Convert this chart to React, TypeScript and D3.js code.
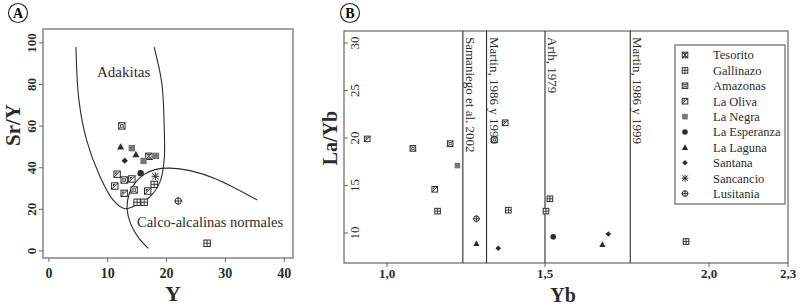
import { useEffect } from 'react';
import * as d3 from 'd3';

// groups, in legend order
const groups = ['Tesorito', 'Gallinazo', 'Amazonas', 'La Oliva', 'La Negra', 'La Esperanza', 'La Laguna', 'Santana', 'Sancancio', 'Lusitania'];

// panel A: Y vs Sr/Y
const srYPoints = [
  { g: 'Amazonas', x: 12.4, y: 60.1 },
  { g: 'La Laguna', x: 12.2, y: 50.1 },
  { g: 'La Negra', x: 14.1, y: 49.4 },
  { g: 'La Laguna', x: 14.8, y: 46.4 },
  { g: 'Tesorito', x: 17.0, y: 45.5 },
  { g: 'La Negra', x: 18.2, y: 45.7 },
  { g: 'La Negra', x: 16.1, y: 43.3 },
  { g: 'Santana', x: 12.9, y: 43.4 },
  { g: 'La Esperanza', x: 15.6, y: 37.4 },
  { g: 'Sancancio', x: 18.1, y: 35.9 },
  { g: 'La Oliva', x: 11.6, y: 36.9 },
  { g: 'Amazonas', x: 12.8, y: 34.1 },
  { g: 'La Oliva', x: 14.1, y: 34.6 },
  { g: 'Gallinazo', x: 17.9, y: 32.0 },
  { g: 'La Oliva', x: 11.2, y: 31.2 },
  { g: 'Amazonas', x: 14.5, y: 29.3 },
  { g: 'La Oliva', x: 16.8, y: 28.8 },
  { g: 'La Oliva', x: 12.8, y: 27.7 },
  { g: 'Gallinazo', x: 15.0, y: 23.4 },
  { g: 'Gallinazo', x: 16.2, y: 23.4 },
  { g: 'Lusitania', x: 22.0, y: 24.0 },
  { g: 'Gallinazo', x: 26.9, y: 3.7 },
];

const adakitaCurve: [number, number][] = [
  [4.6, 98], [5.1, 72.6], [6.4, 53.4], [8.7, 35.7], [10.9, 24.5], [12.9, 20.3],
  [14.9, 22.1], [17.2, 26.1], [18.9, 33.3], [19.6, 43.8], [19.6, 59.8], [19.2, 80.6], [17.9, 98],
];
const calcoCurve: [number, number][] = [
  [16.9, 1.2], [15.2, 6.5], [13.9, 13], [13.3, 20], [13.6, 27], [14.6, 32.5],
  [16.2, 36.8], [18.2, 39.2], [20.6, 39.8], [24, 38.6], [28.5, 34.5], [35.4, 24.5],
];

// panel B: Yb vs La/Yb
const laYbPoints = [
  { g: 'La Oliva', x: 0.937, y: 19.9 },
  { g: 'Amazonas', x: 1.082, y: 18.9 },
  { g: 'Amazonas', x: 1.2, y: 19.4 },
  { g: 'La Negra', x: 1.223, y: 17.1 },
  { g: 'La Oliva', x: 1.151, y: 14.6 },
  { g: 'Gallinazo', x: 1.16, y: 12.3 },
  { g: 'Lusitania', x: 1.283, y: 11.5 },
  { g: 'La Laguna', x: 1.283, y: 8.9 },
  { g: 'Santana', x: 1.352, y: 8.4 },
  { g: 'Amazonas', x: 1.34, y: 19.8 },
  { g: 'La Oliva', x: 1.374, y: 21.6 },
  { g: 'Gallinazo', x: 1.384, y: 12.4 },
  { g: 'Gallinazo', x: 1.515, y: 13.6 },
  { g: 'Gallinazo', x: 1.503, y: 12.3 },
  { g: 'La Esperanza', x: 1.525, y: 9.6 },
  { g: 'Santana', x: 1.693, y: 9.9 },
  { g: 'La Laguna', x: 1.675, y: 8.8 },
  { g: 'Gallinazo', x: 1.93, y: 9.1 },
];

const refLines = [
  { x: 1.24, label: 'Samaniego et al. 2002' },
  { x: 1.315, label: 'Martin, 1986 y 1999' },
  { x: 1.5, label: 'Arth, 1979' },
  { x: 1.76, label: 'Martin, 1986 y 1999' },
];

const aXTicks = [0, 10, 20, 30, 40];
const aYTicks = [0, 20, 40, 60, 80, 100];
const bXTicks = [1, 1.5, 2, 2.3];
const bYTicks = [10, 15, 20, 25, 30];

const ink = '#2b2b2b';
const frame = '#666';
const serif = '"Liberation Serif", "Times New Roman", Times, serif';

const Marker = ({ g, x, y, s = 3.2 }: { g: string; x: number; y: number; s?: number }) => {
  const sq = <rect x={-s} y={-s} width={2 * s} height={2 * s} fill="#fff" stroke={ink} strokeWidth={1} />;
  let body;
  if (g === 'Tesorito') {
    body = (<>{sq}<path d={`M${-s},${-s}L${s},${s}M${s},${-s}L${-s},${s}M${-s * 0.6},${-s * 0.6}H${s * 0.6}M${-s * 0.6},${s * 0.6}H${s * 0.6}`} stroke={ink} strokeWidth={0.9} /></>);
  } else if (g === 'Gallinazo') {
    body = (<>{sq}<path d={`M0,${-s}V${s}M${-s},0H${s}`} stroke={ink} strokeWidth={0.9} /></>);
  } else if (g === 'Amazonas') {
    body = (<>{sq}<path d={`M${-s},${-s}L${s},${s}M${s},${-s}L${-s},${s}`} stroke={ink} strokeWidth={0.8} /><circle r={s * 0.45} fill="#fff" stroke={ink} strokeWidth={0.8} /></>);
  } else if (g === 'La Oliva') {
    body = (<>{sq}<path d={`M${-s},${s}L${s},${-s}`} stroke={ink} strokeWidth={1} /><path d={`M${-s * 0.6},${-s * 0.6}L${s * 0.2},${-s * 0.6}L${-s * 0.6},${s * 0.2}Z`} fill={ink} /></>);
  } else if (g === 'La Negra') {
    body = <rect x={-s} y={-s} width={2 * s} height={2 * s} fill="#777" />;
  } else if (g === 'La Esperanza') {
    body = <circle r={s} fill={ink} />;
  } else if (g === 'La Laguna') {
    body = <path d={`M0,${-s * 1.1}L${s * 1.1},${s * 0.9}L${-s * 1.1},${s * 0.9}Z`} fill={ink} />;
  } else if (g === 'Santana') {
    body = <path d={`M0,${-s}L${s},0L0,${s}L${-s},0Z`} fill={ink} />;
  } else if (g === 'Sancancio') {
    body = <path d={`M0,${-s * 1.2}V${s * 1.2}M${-s * 1.2},0H${s * 1.2}M${-s},${-s}L${s},${s}M${s},${-s}L${-s},${s}`} stroke={ink} strokeWidth={1} />;
  } else {
    body = (<><circle r={s} fill="#fff" stroke={ink} strokeWidth={1} /><path d={`M0,${-s * 1.3}V${s * 1.3}M${-s * 1.3},0H${s * 1.3}`} stroke={ink} strokeWidth={0.9} /></>);
  }
  return <g transform={`translate(${x},${y})`}>{body}</g>;
};

const Circled = ({ x, y, t }: { x: number; y: number; t: string }) => (
  <g>
    <circle cx={x} cy={y} r={9.5} fill="none" stroke={ink} strokeWidth={1.2} />
    <text x={x} y={y} dy="0.36em" textAnchor="middle" fontWeight="bold" fontSize={14}>{t}</text>
  </g>
);

export default function App() {
  useEffect(() => {
    document.body.style.margin = '0';
  }, []);

  // panel A scales
  const ax = d3.scaleLinear().domain([-1.0, 41.5]).range([43, 293]);
  const ay = d3.scaleLinear().domain([-3.4, 106.7]).range([258, 29]);
  const line = d3.line<[number, number]>().x(d => ax(d[0])).y(d => ay(d[1])).curve(d3.curveCatmullRom.alpha(0.5));

  // panel B scales (axis as printed is not strictly linear)
  const bx = d3.scaleLinear().domain([0.863, 1, 1.5, 2, 2.3]).range([344, 387, 545, 709, 788]);
  const by = d3.scaleLinear().domain([6.84, 31.26]).range([263, 31]);

  return (
    <svg width={800} height={307} fontFamily={serif} style={{ display: 'block' }}>
      <rect width={800} height={307} fill="#fff" />

      {/* ---------- Panel A ---------- */}
      <Circled x={18} y={13} t="A" />
      <rect x={43} y={29} width={250} height={229} fill="none" stroke={frame} strokeWidth={1.2} />
      {aXTicks.map(t => (
        <g key={t}>
          <line x1={ax(t)} x2={ax(t)} y1={258} y2={262} stroke={frame} />
          <text x={ax(t)} y={278} textAnchor="middle" fontWeight="bold" fontSize={14} fill={ink}>{t}</text>
        </g>
      ))}
      {aYTicks.map(t => (
        <g key={t}>
          <line x1={39} x2={43} y1={ay(t)} y2={ay(t)} stroke={frame} />
          <text transform={`translate(31,${ay(t)}) rotate(-90)`} dy="0.35em" textAnchor="middle" fontWeight="bold" fontSize={13} fill={ink}>{t}</text>
        </g>
      ))}
      <text x={173} y={301} textAnchor="middle" fontWeight="bold" fontSize={22} fill={ink}>Y</text>
      <text transform="translate(20,125) rotate(-90)" textAnchor="middle" fontWeight="bold" fontSize={21} fill={ink}>Sr/Y</text>

      <path d={line(adakitaCurve) ?? ''} fill="none" stroke={ink} strokeWidth={1.1} />
      <path d={line(calcoCurve) ?? ''} fill="none" stroke={ink} strokeWidth={1.1} />
      <text x={97} y={77} fontSize={15} fill={ink}>Adakitas</text>
      <text x={137} y={227} fontSize={14.5} fill={ink}>Calco-alcalinas normales</text>

      {srYPoints.map((p, i) => (
        <Marker key={i} g={p.g} x={ax(p.x)} y={ay(p.y)} s={3.2} />
      ))}

      {/* ---------- Panel B ---------- */}
      <Circled x={350} y={13} t="B" />
      <rect x={344} y={31} width={444} height={232} fill="none" stroke={frame} strokeWidth={1.2} />
      {bXTicks.map(t => (
        <g key={t}>
          <line x1={bx(t)} x2={bx(t)} y1={263} y2={267} stroke={frame} />
          <text x={bx(t)} y={278} textAnchor="middle" fontWeight="bold" fontSize={13} fill={ink}>{d3.format('.1f')(t).replace('.', ',')}</text>
        </g>
      ))}
      {bYTicks.map(t => (
        <g key={t}>
          <line x1={344} x2={348} y1={by(t)} y2={by(t)} stroke={frame} />
          <text transform={`translate(354,${by(t)}) rotate(-90)`} dy="0.35em" textAnchor="middle" fontSize={13} fill={ink}>{t}</text>
        </g>
      ))}
      <text x={563} y={302} textAnchor="middle" fontWeight="bold" fontSize={20} fill={ink}>Yb</text>
      <text transform="translate(337,138) rotate(-90)" textAnchor="middle" fontWeight="bold" fontSize={20} fill={ink}>La/Yb</text>

      {refLines.map((r, i) => (
        <g key={i}>
          <line x1={bx(r.x)} x2={bx(r.x)} y1={31} y2={263} stroke={ink} strokeWidth={1.1} />
          <text transform={`translate(${bx(r.x) + 3},37) rotate(90)`} fontSize={13} fill={ink}>{r.label}</text>
        </g>
      ))}

      {laYbPoints.map((p, i) => (
        <Marker key={i} g={p.g} x={bx(p.x)} y={by(p.y)} s={2.8} />
      ))}

      {/* legend */}
      <rect x={675} y={45} width={110} height={159} fill="#fff" stroke={frame} strokeWidth={1.2} />
      {groups.map((g, i) => (
        <g key={g}>
          <Marker g={g} x={685} y={55 + i * 15.4} s={2.8} />
          <text x={713} y={55 + i * 15.4} dy="0.35em" fontSize={12.5} fill={ink}>{g}</text>
        </g>
      ))}
    </svg>
  );
}
